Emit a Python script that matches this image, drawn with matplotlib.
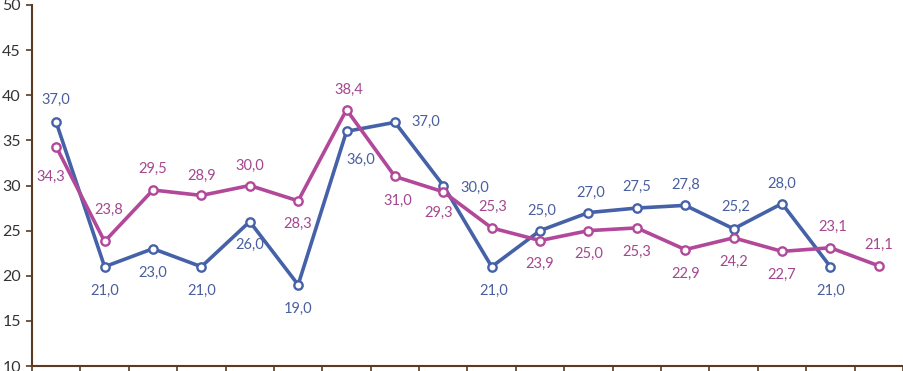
import matplotlib
matplotlib.use('Agg')
import matplotlib.pyplot as plt

plt.rcParams['font.family'] = ['Lato', 'DejaVu Sans']

# values
blue = [37.0, 21.0, 23.0, 21.0, 26.0, 19.0, 36.0, 37.0, 30.0, 21.0, 25.0, 27.0, 27.5, 27.8, 25.2, 28.0, 21.0]
pink = [34.3, 23.8, 29.5, 28.9, 30.0, 28.3, 38.4, 31.0, 29.3, 25.3, 23.9, 25.0, 25.3, 22.9, 24.2, 22.7, 23.1, 21.1]
n_cats = 18
y_ticks = [10, 15, 20, 25, 30, 35, 40, 45, 50]

# label offsets in pixels (dx, dy), dy up positive
blue_off = [(0, 22), (0, -24), (0, -24), (0, -24), (0, -23), (0, -24), (14, -29), (31, 0),
            (31, -2), (2, -24), (2, 20), (2, 20), (0, 21), (0, 20), (2, 22), (0, 20), (0, -24)]
pink_off = [(-5, -30), (4, 32), (0, 21), (0, 20), (0, 20), (0, -23), (2, 20), (3, -24),
            (-5, -21), (1, 21), (0, -23), (0, -23), (0, -24), (0, -24), (0, -24), (0, -24), (2, 21), (0, 21)]

BLUE = '#4562a8'
PINK = '#b2489a'
BLUE_TXT = '#4a5f9e'
PINK_TXT = '#a4478f'
AXIS = '#5a3a20'

fig = plt.figure(figsize=(9.04, 3.71), dpi=100)
ax = fig.add_axes([32/904, 5/371, 871/904, 361/371])

def draw(vals, col, tcol, offs):
  x = list(range(len(vals)))
  ax.plot(x, vals, color=col, lw=2.6, marker='o', ms=6, mfc='white', mec=col, mew=1.7, zorder=3)
  for i, v in enumerate(vals):
    dx, dy = offs[i]
    ax.annotate(('%.1f' % v).replace('.', ','), (i, v), xytext=(dx, dy), textcoords='offset pixels',
                ha='center', va='center', fontsize=10.5, color=tcol)

draw(blue, BLUE, BLUE_TXT, blue_off)
draw(pink, PINK, PINK_TXT, pink_off)

ax.set_xlim(-0.5, n_cats - 0.5)
ax.set_ylim(10, 50)
ax.set_xticks([i - 0.5 for i in range(n_cats + 1)])
ax.set_xticklabels([])
ax.set_yticks(y_ticks)
ax.tick_params(axis='y', colors=AXIS, labelcolor='#333333', labelsize=11.5, length=4, width=1.2, pad=4)
ax.tick_params(axis='x', colors=AXIS, length=6, width=1.2)
for s in ['top', 'right']:
  ax.spines[s].set_visible(False)
for s in ['left', 'bottom']:
  ax.spines[s].set_color(AXIS)
  ax.spines[s].set_linewidth(1.5)

fig.savefig('out.png', dpi=100)
